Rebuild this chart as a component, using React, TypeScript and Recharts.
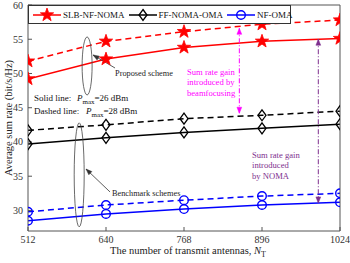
import React from "react";
import {
  LineChart,
  Line,
  XAxis,
  YAxis,
  Legend,
  ReferenceDot,
  ReferenceLine,
} from "recharts";

const FONT = '"Liberation Serif", "Times New Roman", serif';

const antennas = [512, 640, 768, 896, 1024];
const slbSolid = [49.2, 52.1, 53.8, 54.7, 55.1];
const slbDashed = [51.8, 54.7, 56.1, 57.2, 57.8];
const ffSolid = [39.7, 40.6, 41.4, 42.0, 42.6];
const ffDashed = [41.7, 42.5, 43.4, 43.9, 44.5];
const nfSolid = [28.5, 29.5, 30.2, 30.8, 31.2];
const nfDashed = [29.8, 30.8, 31.5, 32.1, 32.5];
const yTicks = [30, 35, 40, 45, 50, 55, 60];

const data = antennas.map((n, i) => ({
  n,
  slbS: slbSolid[i],
  slbD: slbDashed[i],
  ffS: ffSolid[i],
  ffD: ffDashed[i],
  nfS: nfSolid[i],
  nfD: nfDashed[i],
}));

const RED = "#ff0000";
const BLUE = "#0000ff";
const BLACK = "#000000";
const MAGENTA = "#ff00ff";
const PURPLE = "#7e2f8e";
const AXIS = "#555";

function starPath(cx: number, cy: number, R: number, r: number) {
  let d = "";
  for (let i = 0; i < 10; i++) {
    const a = ((-90 + i * 36) * Math.PI) / 180;
    const rad = i % 2 === 0 ? R : r;
    d += (i === 0 ? "M" : "L") + (cx + rad * Math.cos(a)) + "," + (cy + rad * Math.sin(a));
  }
  return d + "Z";
}

const Star = ({ cx, cy }: any) => (
  <path d={starPath(cx, cy, 7, 2.8)} fill={RED} stroke={RED} strokeWidth={0.8} />
);
const Diamond = ({ cx, cy }: any) => (
  <path
    d={`M${cx},${cy - 5.5}L${cx + 4},${cy}L${cx},${cy + 5.5}L${cx - 4},${cy}Z`}
    fill="none"
    stroke={BLACK}
    strokeWidth={1.3}
  />
);
const Circ = ({ cx, cy }: any) => (
  <circle cx={cx} cy={cy} r={4.3} fill="none" stroke={BLUE} strokeWidth={1.4} />
);

const starDot = (p: any) => <Star key={p.index} cx={p.cx} cy={p.cy} />;
const diamondDot = (p: any) => <Diamond key={p.index} cx={p.cx} cy={p.cy} />;
const circDot = (p: any) => <Circ key={p.index} cx={p.cx} cy={p.cy} />;

const legendItems = [
  { name: "SLB-NF-NOMA", color: RED, Marker: Star },
  { name: "FF-NOMA-OMA", color: BLACK, Marker: Diamond },
  { name: "NF-OMA", color: BLUE, Marker: Circ },
];

const LegendBox = () => (
  <div
    style={{
      display: "flex",
      alignItems: "center",
      height: 17,
      width: 258,
      border: "1px solid #333",
      background: "#fff",
      fontFamily: FONT,
      fontSize: 9,
      color: "#111",
      whiteSpace: "nowrap",
      paddingLeft: 3,
    }}
  >
    {legendItems.map(({ name, color, Marker }) => (
      <span key={name} style={{ display: "flex", alignItems: "center", marginRight: 3 }}>
        <svg width={30} height={16}>
          <line x1={1} y1={8} x2={29} y2={8} stroke={color} strokeWidth={1.5} />
          <Marker cx={15} cy={8} />
        </svg>
        <span style={{ marginLeft: 1 }}>{name}</span>
      </span>
    ))}
  </div>
);

// annotation anchors, in data coordinates
const ellipseProposed = { x: 609, y: 51.1, rx: 5, ry: 29 };
const ellipseBench = { x: 596, y: 35.2, rx: 5, ry: 52 };
const arrowProposed = { x1: 654.8, y1: 50.8, x2: 618.7, y2: 52.7 };
const arrowBench = { x1: 646.6, y1: 32.7, x2: 607.2, y2: 36.05 };
const beamArrow = { x: 858.8, y1: 56.6, y2: 44.2 };
const nomaArrow = { x: 988.4, y1: 55.0, y2: 31.1 };

const textBlock =
  (lines: string[], color: string, size = 8.6, lh = 10.5) =>
  ({ cx, cy }: any) =>
    (
      <text x={cx} y={cy} fill={color} fontFamily={FONT} fontSize={size}>
        {lines.map((l, i) => (
          <tspan key={i} x={cx} dy={i === 0 ? 0 : lh}>
            {l}
          </tspan>
        ))}
      </text>
    );

const powerText =
  (label: string, px: number, value: string) =>
  ({ cx, cy }: any) =>
    (
      <text x={cx} y={cy} fill="#111" fontFamily={FONT} fontSize={9}>
        {label}
        <tspan x={cx + px} fontStyle="italic">P</tspan>
        <tspan dy={3} fontSize={7}>max</tspan>
        <tspan dy={-3}>{value}</tspan>
      </text>
    );

const ellipseShape =
  (rx: number, ry: number) =>
  ({ cx, cy }: any) =>
    <ellipse cx={cx} cy={cy} rx={rx} ry={ry} fill="none" stroke="#444" strokeWidth={0.8} />;

function head(x: number, y: number, fx: number, fy: number, color: string, len = 6, w = 2.4) {
  const dx = x - fx;
  const dy = y - fy;
  const L = Math.hypot(dx, dy) || 1;
  const ux = dx / L;
  const uy = dy / L;
  const bx = x - ux * len;
  const by = y - uy * len;
  return (
    <path
      d={`M${x},${y}L${bx - uy * w},${by + ux * w}L${bx + uy * w},${by - ux * w}Z`}
      fill={color}
      stroke={color}
      strokeWidth={0.5}
    />
  );
}

const singleArrow = (props: any) => {
  const { x1, y1, x2, y2 } = props;
  return (
    <g>
      <line x1={x1} y1={y1} x2={x2} y2={y2} stroke="#333" strokeWidth={0.8} />
      {head(x2, y2, x1, y1, "#333", 6, 2.2)}
    </g>
  );
};

const doubleArrow = (color: string) => (props: any) => {
  const { x1, y1, x2, y2 } = props;
  return (
    <g>
      <line x1={x1} y1={y1} x2={x2} y2={y2} stroke={color} strokeWidth={1} strokeDasharray="5 2 1 2" />
      {head(x1, y1, x2, y2, color)}
      {head(x2, y2, x1, y1, color)}
    </g>
  );
};

const XTitle = ({ viewBox }: any) => {
  const cx = viewBox.x + viewBox.width / 2 + 4;
  const y = viewBox.y + 23;
  return (
    <text x={cx} y={y} textAnchor="middle" fill="#222" fontFamily={FONT} fontSize={10.5}>
      The number of transmit antennas,{"  "}
      <tspan fontStyle="italic">N</tspan>
      <tspan dy={3} fontSize={8}>T</tspan>
    </text>
  );
};

const YTitle = ({ viewBox }: any) => {
  const x = 10;
  const y = viewBox.y + viewBox.height / 2;
  return (
    <text
      x={x}
      y={y}
      transform={`rotate(-90 ${x} ${y})`}
      textAnchor="middle"
      dominantBaseline="middle"
      fill="#222"
      fontFamily={FONT}
      fontSize={10.5}
    >
      Average sum rate (bit/s/Hz)
    </text>
  );
};

const YTick = ({ x, y, payload }: any) => (
  <text x={x} y={y} textAnchor="end" dominantBaseline="central" fill="#333" fontFamily={FONT} fontSize={10}>
    {payload.value}
  </text>
);

export default function App() {
  const tickStyle = { fill: "#333", fontFamily: FONT, fontSize: 10 };
  return (
    <div style={{ position: "absolute", left: 0, top: 0, background: "#fff" }}>
      <LineChart width={350} height={263} data={data} margin={{ top: 5, right: 10, left: 0, bottom: 0 }}>
        <XAxis
          dataKey="n"
          type="number"
          domain={[512, 1024]}
          ticks={antennas}
          interval={0}
          tick={tickStyle}
          tickSize={-4}
          tickMargin={9}
          height={32}
          stroke={AXIS}
          label={<XTitle />}
          allowDataOverflow
        />
        <XAxis
          xAxisId="top"
          orientation="top"
          type="number"
          domain={[512, 1024]}
          ticks={antennas}
          tick={false}
          tickSize={4}
          mirror
          stroke={AXIS}
          allowDataOverflow
        />
        <YAxis
          type="number"
          domain={[27, 60]}
          ticks={yTicks}
          interval={0}
          tick={<YTick />}
          tickSize={-4}
          tickMargin={9}
          width={28}
          stroke={AXIS}
          allowDataOverflow
          label={<YTitle />}
        />
        <YAxis
          yAxisId="right"
          orientation="right"
          type="number"
          domain={[27, 60]}
          ticks={yTicks}
          tick={false}
          tickSize={4}
          mirror
          stroke={AXIS}
          allowDataOverflow
        />
        <Legend
          content={<LegendBox />}
          verticalAlign="middle"
          align="center"
          wrapperStyle={{ left: 28, top: 5, width: "auto", height: "auto" }}
        />

        <Line dataKey="slbD" stroke={RED} strokeWidth={1.5} strokeDasharray="6 4" dot={starDot} isAnimationActive={false} />
        <Line dataKey="slbS" stroke={RED} strokeWidth={1.5} dot={starDot} isAnimationActive={false} />
        <Line dataKey="ffD" stroke={BLACK} strokeWidth={1.5} strokeDasharray="6 4" dot={diamondDot} isAnimationActive={false} />
        <Line dataKey="ffS" stroke={BLACK} strokeWidth={1.5} dot={diamondDot} isAnimationActive={false} />
        <Line dataKey="nfD" stroke={BLUE} strokeWidth={1.5} strokeDasharray="6 4" dot={circDot} isAnimationActive={false} />
        <Line dataKey="nfS" stroke={BLUE} strokeWidth={1.5} dot={circDot} isAnimationActive={false} />

        <ReferenceDot
          x={ellipseProposed.x}
          y={ellipseProposed.y}
          shape={ellipseShape(ellipseProposed.rx, ellipseProposed.ry)}
        />
        <ReferenceDot x={ellipseBench.x} y={ellipseBench.y} shape={ellipseShape(ellipseBench.rx, ellipseBench.ry)} />
        <ReferenceLine
          segment={[
            { x: arrowProposed.x1, y: arrowProposed.y1 },
            { x: arrowProposed.x2, y: arrowProposed.y2 },
          ]}
          shape={singleArrow}
        />
        <ReferenceLine
          segment={[
            { x: arrowBench.x1, y: arrowBench.y1 },
            { x: arrowBench.x2, y: arrowBench.y2 },
          ]}
          shape={singleArrow}
        />
        <ReferenceLine
          segment={[
            { x: beamArrow.x, y: beamArrow.y1 },
            { x: beamArrow.x, y: beamArrow.y2 },
          ]}
          shape={doubleArrow(MAGENTA)}
        />
        <ReferenceLine
          segment={[
            { x: nomaArrow.x, y: nomaArrow.y1 },
            { x: nomaArrow.x, y: nomaArrow.y2 },
          ]}
          shape={doubleArrow(PURPLE)}
        />

        <ReferenceDot x={654.8} y={49.6} shape={textBlock(["Proposed scheme"], "#222", 8.3)} />
        <ReferenceDot x={649.8} y={32.1} shape={textBlock(["Benchmark schemes"], "#222", 8.3)} />
        <ReferenceDot x={521.8} y={46.0} shape={powerText("Solid line:", 43, "=26 dBm")} />
        <ReferenceDot x={521.8} y={44.1} shape={powerText("Dashed line:", 52, "=28 dBm")} />
        <ReferenceDot
          x={772.9}
          y={49.8}
          shape={textBlock(["Sum rate gain", "introduced by", "beamfocusing"], MAGENTA)}
        />
        <ReferenceDot
          x={879.6}
          y={37.7}
          shape={textBlock(["Sum rate gain", "introduced", "by NOMA"], PURPLE)}
        />
      </LineChart>
    </div>
  );
}
